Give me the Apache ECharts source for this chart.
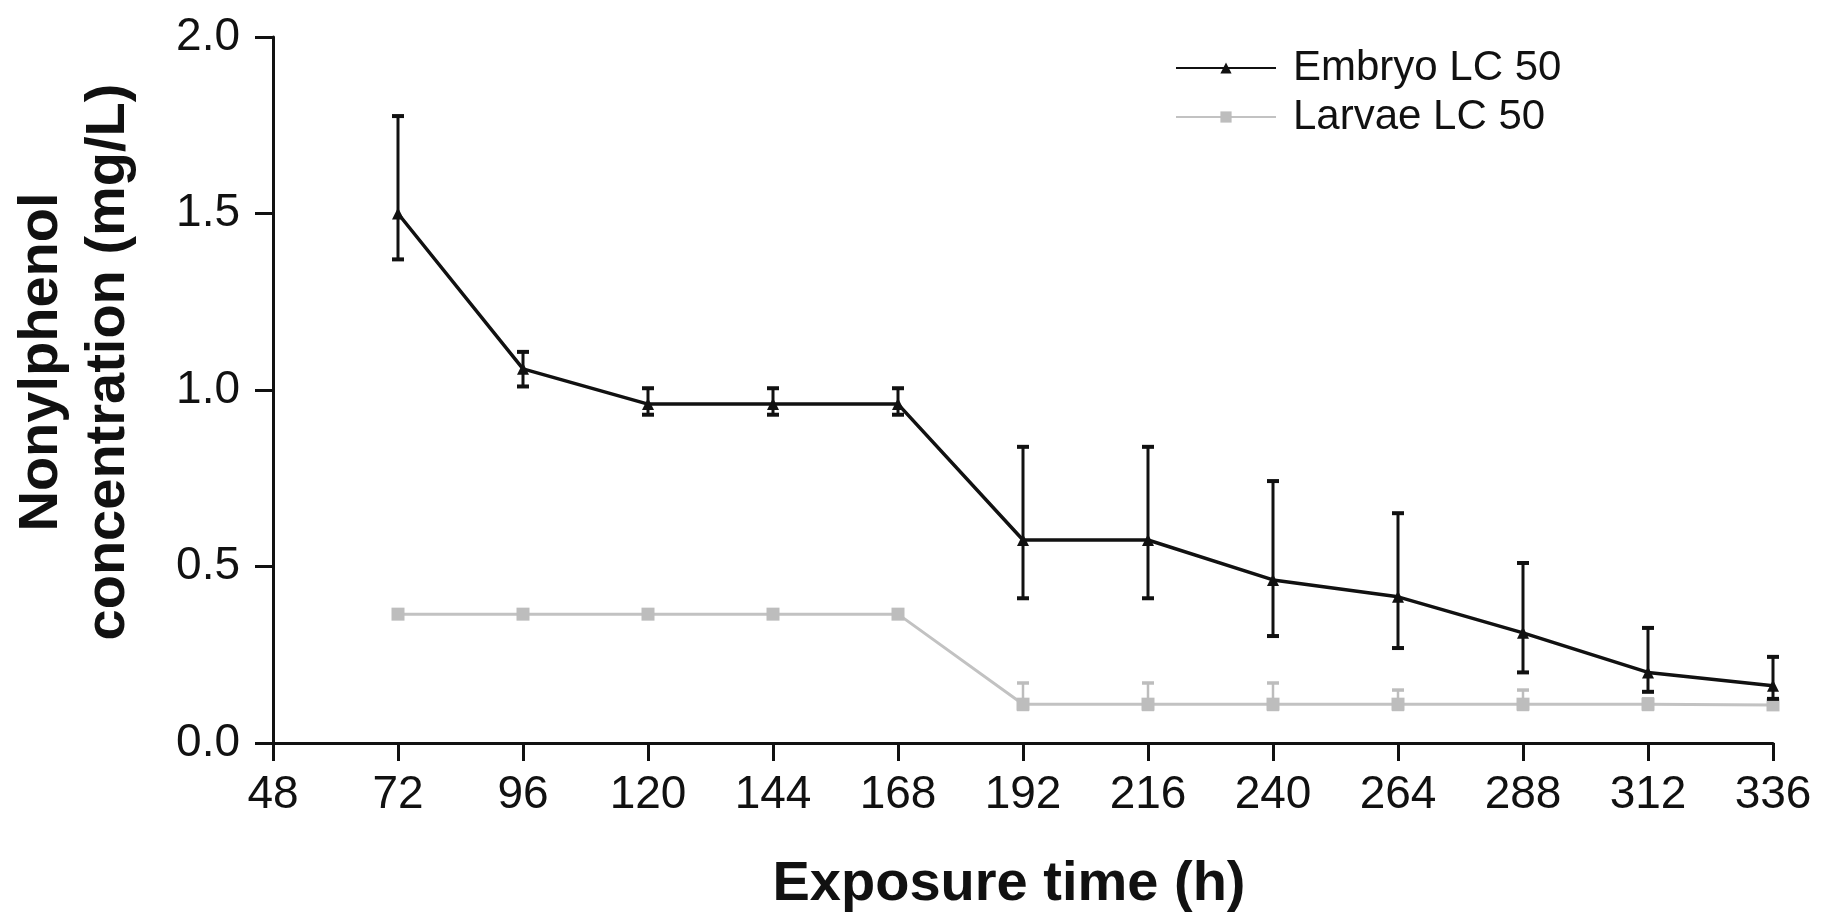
<!DOCTYPE html>
<html>
<head>
<meta charset="utf-8">
<script src="https://cdn.jsdelivr.net/npm/echarts@6/dist/echarts.min.js"></script>
<style>
  html, body { margin: 0; padding: 0; background: #fff; }
  #chart { width: 1827px; height: 923px; }
</style>
</head>
<body>
<div id="chart"></div>
<script>
var hours = [72, 96, 120, 144, 168, 192, 216, 240, 264, 288, 312, 336];

var embryo     = [1.50, 1.06, 0.96, 0.96, 0.96, 0.575, 0.575, 0.462, 0.414, 0.312, 0.20, 0.162];
var embryoLow  = [1.37, 1.01, 0.93, 0.93, 0.93, 0.41, 0.41, 0.303, 0.269, 0.20, 0.145, 0.125];
var embryoHigh = [1.776, 1.108, 1.005, 1.005, 1.005, 0.839, 0.839, 0.742, 0.651, 0.51, 0.326, 0.244];

var larvae     = [0.365, 0.365, 0.365, 0.365, 0.365, 0.11, 0.11, 0.11, 0.11, 0.11, 0.11, 0.108];
var larvaeLow  = [null, null, null, null, null, 0.095, 0.095, 0.095, 0.095, 0.095, 0.095, null];
var larvaeHigh = [null, null, null, null, null, 0.17, 0.17, 0.17, 0.15, 0.15, 0.125, null];

var yTicks = ['0.0', '0.5', '1.0', '1.5', '2.0'];

var font = "'Liberation Sans', Arial, sans-serif";

function pairs(vals) {
    return hours.map(function (h, i) { return [h, vals[i]]; });
}
function bars(lo, hi) {
    var out = [];
    hours.forEach(function (h, i) {
        if (lo[i] != null && hi[i] != null) out.push([h, lo[i], hi[i]]);
    });
    return out;
}

// vertical error bar with caps, for custom series
function errorBar(color, width, capWidth) {
    return function (params, api) {
        var x = api.value(0);
        var a = api.coord([x, api.value(1)]);
        var b = api.coord([x, api.value(2)]);
        var half = 6;
        return {
            type: 'group',
            children: [
                { type: 'line', shape: { x1: a[0], y1: a[1], x2: b[0], y2: b[1] }, style: { stroke: color, lineWidth: width } },
                { type: 'line', shape: { x1: a[0] - half, y1: a[1], x2: a[0] + half, y2: a[1] }, style: { stroke: color, lineWidth: capWidth } },
                { type: 'line', shape: { x1: b[0] - half, y1: b[1], x2: b[0] + half, y2: b[1] }, style: { stroke: color, lineWidth: capWidth } }
            ]
        };
    };
}

var myChart = echarts.init(document.getElementById('chart'));
var option = {
    backgroundColor: '#fff',
    animation: false,
    grid: { left: 272, right: 54, top: 37, bottom: 180 },
    legend: {
        data: ['Embryo LC 50', 'Larvae LC 50'],
        orient: 'vertical',
        left: 1170,
        top: 42,
        itemWidth: 100,
        itemHeight: 14,
        itemGap: 7,
        textStyle: { fontFamily: font, fontSize: 42, lineHeight: 42, color: '#111', padding: [0, 0, 0, 12] }
    },
    xAxis: {
        type: 'value',
        min: 48,
        max: 336,
        interval: 24,
        name: 'Exposure time (h)',
        nameLocation: 'middle',
        nameGap: 114,
        nameTextStyle: { fontFamily: font, fontSize: 56, fontWeight: 'bold', color: '#111', padding: [0, 28, 0, 0] },
        axisLine: { lineStyle: { color: '#111', width: 3 } },
        axisTick: { length: 18, lineStyle: { color: '#111', width: 3 } },
        axisLabel: { margin: 29, fontFamily: font, fontSize: 46, color: '#111' },
        splitLine: { show: false }
    },
    yAxis: {
        type: 'value',
        min: 0,
        max: 2,
        interval: 0.5,
        name: 'Nonylphenol\nconcentration (mg/L)',
        nameLocation: 'middle',
        nameGap: 131,
        nameTextStyle: { fontFamily: font, fontSize: 56, fontWeight: 'bold', color: '#111', lineHeight: 67, padding: [0, 0, 0, 56] },
        axisLine: { show: true, lineStyle: { color: '#111', width: 3 } },
        axisTick: { show: true, length: 18, lineStyle: { color: '#111', width: 3 } },
        axisLabel: {
            margin: 33, fontFamily: font, fontSize: 46, color: '#111',
            formatter: function (v) { return yTicks[Math.round(v / 0.5)]; }
        },
        splitLine: { show: false }
    },
    series: [
        {
            name: 'Larvae LC 50',
            type: 'line',
            data: pairs(larvae),
            symbol: 'rect',
            symbolSize: 13,
            itemStyle: { color: '#bdbdbd' },
            lineStyle: { color: '#c2c2c2', width: 3 },
            z: 2
        },
        {
            name: 'larvae-ci',
            type: 'custom',
            data: bars(larvaeLow, larvaeHigh),
            renderItem: errorBar('#bdbdbd', 2.5, 3.5),
            z: 2
        },
        {
            name: 'Embryo LC 50',
            type: 'line',
            data: pairs(embryo),
            symbol: 'triangle',
            symbolSize: 12,
            itemStyle: { color: '#111' },
            lineStyle: { color: '#111', width: 3.5 },
            z: 4
        },
        {
            name: 'embryo-ci',
            type: 'custom',
            data: bars(embryoLow, embryoHigh),
            renderItem: errorBar('#111', 3, 4),
            z: 4
        }
    ]
};
myChart.setOption(option);
</script>
</body>
</html>
